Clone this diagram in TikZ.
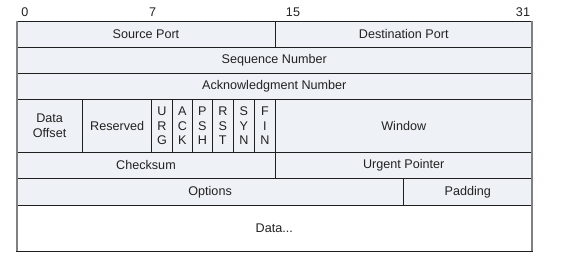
\documentclass[tikz,border=0pt]{standalone}
\usepackage{fontspec}
\setmainfont{Liberation Sans}
\definecolor{cellfill}{HTML}{EEF1F6}
\definecolor{celltext}{HTML}{222222}
\definecolor{edgegrey}{HTML}{808080}
\newcommand{\fld}[7][cellfill]{%
  \pgfmathsetmacro\fw{#5-#3}\pgfmathsetmacro\fh{#6-#4}%
  \node[cell,fill=#1,minimum width=\fw pt,minimum height=\fh pt,anchor=north west] (#2) at (#3,#4) {#7};}
\begin{document}
\begin{tikzpicture}[x=1pt,y=-1pt,
  cell/.style={draw=black!88,line width=0.9pt,inner sep=0pt,outer sep=0pt,align=center,
    text=celltext,font=\fontsize{12.6}{14.8}\selectfont},
  bitlabel/.style={inner sep=0pt,text=celltext,font=\fontsize{12.6}{14.8}\selectfont},
  edge/.style={draw=edgegrey,line width=2pt}]
\useasboundingbox (0,0) rectangle (587,264);
\fill[white] (0,0) rectangle (587,264);
% bit labels
\node[bitlabel] (b0) at (25,12) {0};
\node[bitlabel] (b7) at (152.7,12) {7};
\node[bitlabel] (b15) at (293,12) {15};
\node[bitlabel] (b31) at (523,12) {31};
% row 1
\fld{sp}{16.5}{21.5}{275.5}{47.5}{Source Port}
\fld{dp}{275.5}{21.5}{532}{47.5}{Destination Port}
% row 2
\fld{seq}{16.5}{47.5}{532}{73.5}{Sequence Number}
% row 3
\fld{ack}{16.5}{73.5}{532}{99.5}{Acknowledgment Number}
% row 4
\fld{doff}{16.5}{99.5}{82.7}{152}{Data\\Offset}
\fld{res}{82.7}{99.5}{151.7}{152}{Reserved}
\fld{urg}{151.7}{99.5}{172.3}{152}{U\\R\\G}
\fld{ackf}{172.3}{99.5}{192.3}{152}{A\\C\\K}
\fld{psh}{192.3}{99.5}{212.3}{152}{P\\S\\H}
\fld{rst}{212.3}{99.5}{233.3}{152}{R\\S\\T}
\fld{syn}{233.3}{99.5}{254.3}{152}{S\\Y\\N}
\fld{fin}{254.3}{99.5}{275.5}{152}{F\\I\\N}
\fld{win}{275.5}{99.5}{532}{152}{Window}
% row 5
\fld{cks}{16.5}{152}{275.5}{178.5}{Checksum}
\fld{urp}{275.5}{152}{532}{178.5}{Urgent Pointer}
% row 6
\fld{opt}{16.5}{178.5}{403.7}{205}{Options}
\fld{pad}{403.7}{178.5}{532}{205}{Padding}
% row 7
\fld[white]{data}{16.5}{205}{532}{251}{Data...}
% outer grey edges
\draw[edge] (sp.north west) -- (data.south west);
\draw[edge] (dp.north east) -- (data.south east);
\end{tikzpicture}
\end{document}
